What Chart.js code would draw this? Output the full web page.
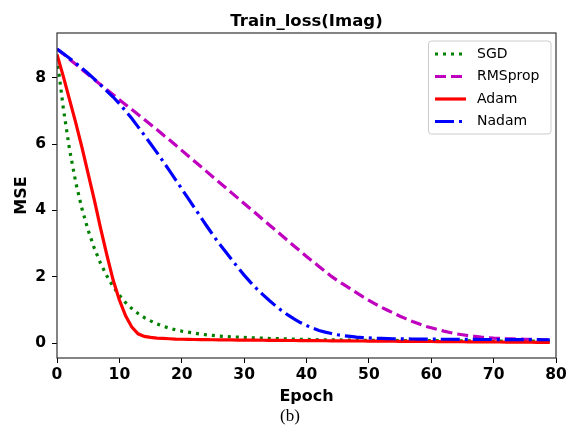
<!DOCTYPE html>
<html>
<head>
<meta charset="utf-8">
<script src="https://cdn.jsdelivr.net/npm/chart.js@4/dist/chart.umd.min.js"></script>
<style>
  body { margin: 0; background: #fff; }
  #wrap { width: 567px; height: 427px; }
</style>
</head>
<body>
<div id="wrap"><canvas id="lossChart" width="567" height="427"></canvas></div>
<script>
// --- data ---
const epochs = Array.from({ length: 80 }, (_, i) => i);

const sgd = [
  8.60, 7.10, 5.85, 4.85, 4.05, 3.40, 2.85, 2.40, 2.02, 1.70,
  1.44, 1.22, 1.04, 0.89, 0.77, 0.67, 0.58, 0.51, 0.45, 0.40,
  0.36, 0.33, 0.30, 0.27, 0.25, 0.23, 0.21, 0.20, 0.19, 0.18,
  0.17, 0.16, 0.155, 0.15, 0.14, 0.135, 0.13, 0.125, 0.12, 0.115,
  0.11, 0.105, 0.10, 0.10, 0.098, 0.095, 0.093, 0.09, 0.088, 0.086,
  0.085, 0.083, 0.082, 0.08, 0.079, 0.078, 0.076, 0.075, 0.074, 0.073,
  0.072, 0.071, 0.07, 0.069, 0.068, 0.067, 0.066, 0.065, 0.064, 0.063,
  0.062, 0.061, 0.06, 0.06, 0.059, 0.058, 0.058, 0.057, 0.056, 0.056
];

const rmsprop = [
  8.87, 8.72, 8.56, 8.41, 8.25, 8.10, 7.94, 7.79, 7.64, 7.49,
  7.34, 7.19, 7.04, 6.89, 6.74, 6.59, 6.44, 6.28, 6.13, 5.97,
  5.81, 5.65, 5.49, 5.33, 5.17, 5.01, 4.85, 4.69, 4.53, 4.37,
  4.21, 4.05, 3.89, 3.73, 3.57, 3.41, 3.25, 3.09, 2.93, 2.77,
  2.61, 2.46, 2.31, 2.16, 2.01, 1.88, 1.76, 1.64, 1.52, 1.40,
  1.29, 1.18, 1.08, 0.99, 0.90, 0.81, 0.73, 0.65, 0.58, 0.51,
  0.46, 0.41, 0.36, 0.32, 0.28, 0.25, 0.22, 0.20, 0.18, 0.165,
  0.15, 0.14, 0.13, 0.125, 0.12, 0.115, 0.11, 0.105, 0.10, 0.10
];

const adam = [
  8.70, 8.05, 7.35, 6.65, 5.90, 5.10, 4.30, 3.45, 2.65, 1.90,
  1.30, 0.82, 0.48, 0.28, 0.20, 0.17, 0.15, 0.14, 0.13, 0.12,
  0.115, 0.11, 0.108, 0.105, 0.103, 0.10, 0.098, 0.096, 0.094, 0.092,
  0.09, 0.088, 0.086, 0.085, 0.083, 0.082, 0.08, 0.078, 0.077, 0.075,
  0.074, 0.072, 0.071, 0.07, 0.068, 0.067, 0.066, 0.064, 0.063, 0.062,
  0.06, 0.059, 0.058, 0.056, 0.055, 0.054, 0.052, 0.051, 0.05, 0.048,
  0.047, 0.046, 0.044, 0.043, 0.042, 0.04, 0.039, 0.038, 0.036, 0.035,
  0.034, 0.032, 0.031, 0.03, 0.028, 0.027, 0.026, 0.024, 0.023, 0.022
];

const nadam = [
  8.87, 8.73, 8.59, 8.44, 8.29, 8.13, 7.96, 7.78, 7.60, 7.42,
  7.22, 7.00, 6.77, 6.52, 6.27, 6.01, 5.75, 5.48, 5.21, 4.93,
  4.65, 4.37, 4.09, 3.81, 3.53, 3.26, 3.00, 2.76, 2.52, 2.28,
  2.05, 1.84, 1.64, 1.46, 1.29, 1.13, 0.98, 0.85, 0.73, 0.62,
  0.53, 0.45, 0.38, 0.33, 0.29, 0.25, 0.22, 0.20, 0.18, 0.165,
  0.155, 0.145, 0.14, 0.135, 0.13, 0.128, 0.125, 0.123, 0.12, 0.12,
  0.118, 0.117, 0.115, 0.115, 0.113, 0.112, 0.11, 0.11, 0.108, 0.108,
  0.107, 0.106, 0.105, 0.105, 0.104, 0.103, 0.102, 0.102, 0.101, 0.10
];

const yTicks = [0, 2, 4, 6, 8];
const xTicksStep = 10;

const FONT = "'DejaVu Sans', sans-serif";

function pts(values) {
  return epochs.map((e, i) => ({ x: e, y: values[i] }));
}

// title over the axes, frame, legend box and the "(b)" caption
const extras = {
  id: 'extras',
  afterDatasetsDraw(chart) {
    const { ctx, chartArea: a } = chart;
    ctx.save();
    ctx.strokeStyle = '#333';
    ctx.lineWidth = 1.2;
    ctx.strokeRect(a.left, a.top, a.right - a.left, a.bottom - a.top);

    ctx.fillStyle = '#000';
    ctx.font = 'bold 16.5px ' + FONT;
    ctx.textAlign = 'center';
    ctx.textBaseline = 'alphabetic';
    ctx.fillText('Train_loss(Imag)', (a.left + a.right) / 2, 26);

    // legend (matplotlib style, upper right)
    const bx = 428.5, by = 41, bw = 122.5, bh = 93;
    ctx.fillStyle = 'rgba(255,255,255,0.8)';
    ctx.strokeStyle = '#cccccc';
    ctx.lineWidth = 1;
    ctx.beginPath();
    ctx.roundRect(bx, by, bw, bh, 3);
    ctx.fill();
    ctx.stroke();

    const rows = [54, 76.5, 99, 121.5];
    chart.data.datasets.forEach((ds, i) => {
      const y = rows[i];
      ctx.strokeStyle = ds.borderColor;
      ctx.lineWidth = 3.2;
      ctx.lineCap = 'butt';
      ctx.setLineDash(ds.borderDash || []);
      ctx.beginPath();
      ctx.moveTo(435, y);
      ctx.lineTo(466, y);
      ctx.stroke();
      ctx.setLineDash([]);
      ctx.fillStyle = '#000';
      ctx.font = '14px ' + FONT;
      ctx.textBaseline = 'middle';
      ctx.textAlign = 'left';
      ctx.fillText(ds.label, 477, y);
    });

    ctx.fillStyle = '#000';
    ctx.font = "17px 'Liberation Serif', serif";
    ctx.textAlign = 'center';
    ctx.textBaseline = 'alphabetic';
    ctx.fillText('(b)', 290, 421);
    ctx.restore();
  }
};

const ctx = document.getElementById('lossChart').getContext('2d');

new Chart(ctx, {
  type: 'line',
  data: {
    datasets: [
      { label: 'SGD', data: pts(sgd), borderColor: '#008000', borderDash: [3, 5], order: 4 },
      { label: 'RMSprop', data: pts(rmsprop), borderColor: '#bf00bf', borderDash: [11, 5], order: 3 },
      { label: 'Adam', data: pts(adam), borderColor: '#ff0000', borderDash: [], order: 2 },
      { label: 'Nadam', data: pts(nadam), borderColor: '#0000ff', borderDash: [19, 5, 3, 5], order: 1 }
    ]
  },
  options: {
    responsive: false,
    animation: false,
    layout: { padding: { top: 33, right: 11, bottom: 21, left: 0 } },
    elements: {
      line: { borderWidth: 3.2, tension: 0, fill: false, borderCapStyle: 'butt' },
      point: { radius: 0 }
    },
    scales: {
      x: {
        type: 'linear',
        min: 0,
        max: 80,
        afterFit: s => { s.height = 48; s.paddingLeft = 0; s.paddingRight = 0; },
        grid: { drawOnChartArea: false, drawTicks: true, tickLength: 5, color: '#000' },
        border: { display: false },
        ticks: { stepSize: xTicksStep, padding: 3, color: '#000', font: { family: FONT, size: 15.5, weight: 'bold' } },
        title: { display: true, text: 'Epoch', color: '#000', padding: { top: 2, bottom: 0 }, font: { family: FONT, size: 16, weight: 'bold' } }
      },
      y: {
        min: -0.45,
        max: 9.35,
        afterFit: s => { s.width = 57; s.paddingTop = 0; s.paddingBottom = 0; },
        afterBuildTicks: s => { s.ticks = yTicks.map(v => ({ value: v })); },
        grid: { drawOnChartArea: false, drawTicks: true, tickLength: 5, color: '#000' },
        border: { display: false },
        ticks: { padding: 6, color: '#000', font: { family: FONT, size: 15.5, weight: 'bold' } },
        title: { display: true, text: 'MSE', color: '#000', padding: { top: 12, bottom: 0 }, font: { family: FONT, size: 16, weight: 'bold' } }
      }
    },
    plugins: {
      legend: { display: false },
      tooltip: { enabled: false },
      title: { display: false }
    }
  },
  plugins: [extras]
});
</script>
</body>
</html>
